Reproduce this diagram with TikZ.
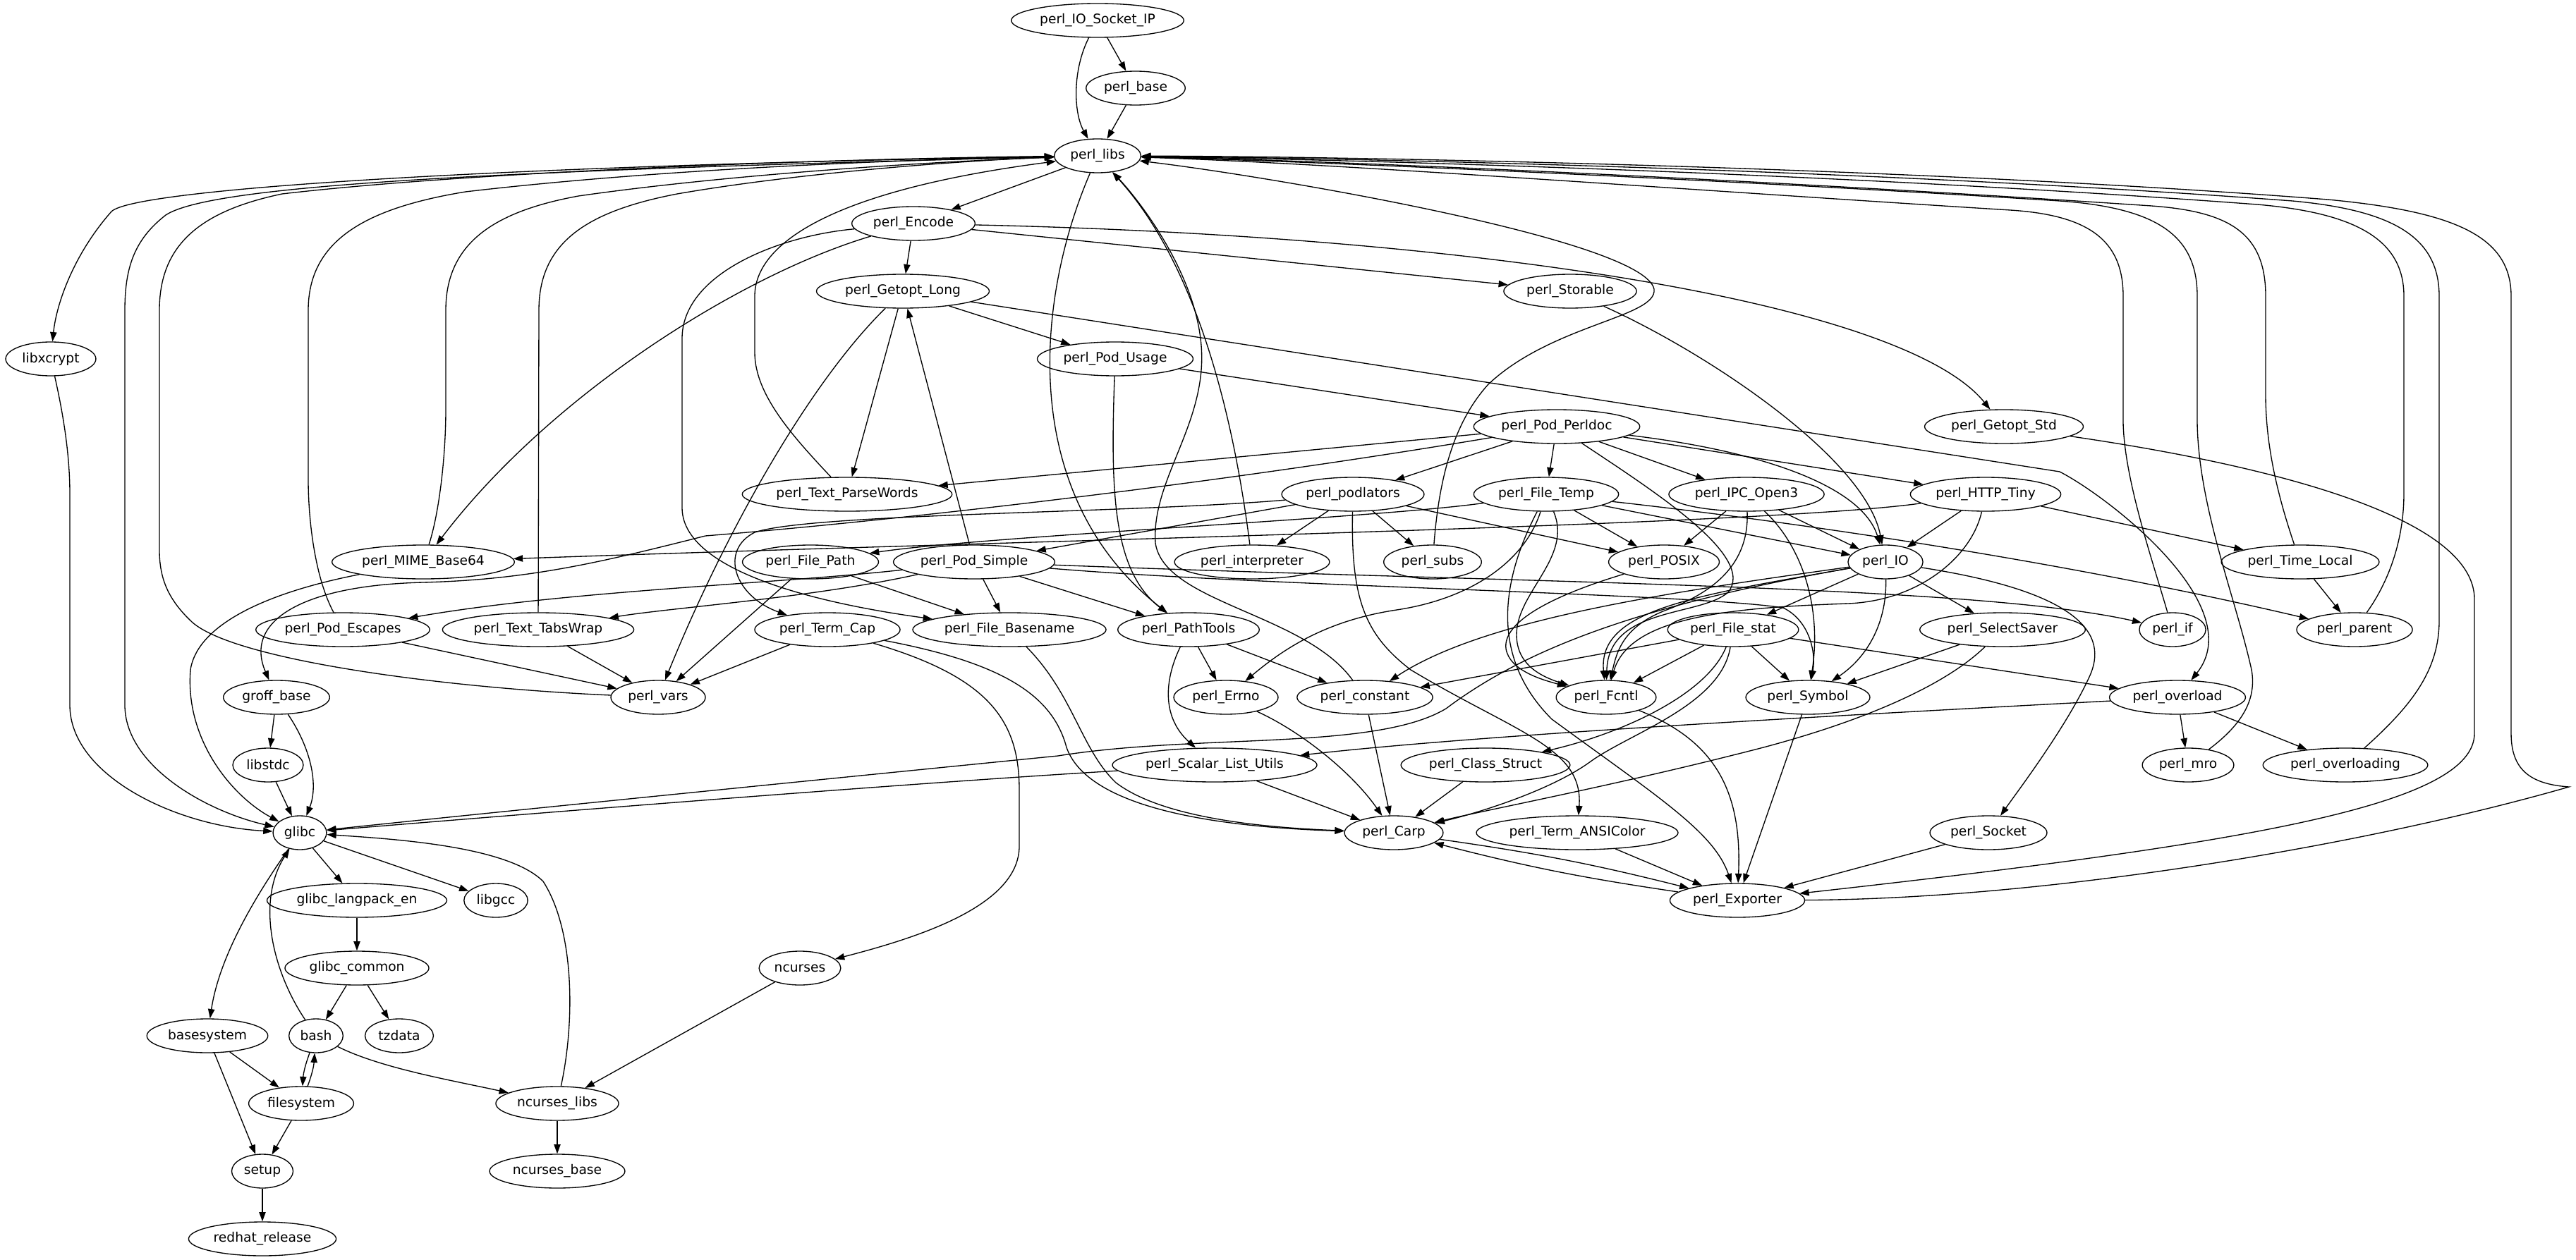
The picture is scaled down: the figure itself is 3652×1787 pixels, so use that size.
\documentclass[tikz,border=0pt]{standalone}
\usepackage{fontspec}
\setmainfont{DejaVu Sans}
\usetikzlibrary{shapes.geometric,arrows.meta}
\begin{document}
\begin{tikzpicture}[x=0.75pt,y=-0.75pt,
    pkg/.style={ellipse,draw,line width=1pt,minimum height=36pt,minimum width=54pt,inner xsep=3.5pt,inner ysep=0pt,font=\fontsize{14pt}{16pt}\selectfont},
    dep/.style={-{Triangle[length=10pt,width=7pt]},line width=1pt}]
        \fill[white] (0,0) rectangle (3652,1787);
        \useasboundingbox (0,0) rectangle (3652,1787);
        \node[pkg] (ioSocketIP) at (1556,29) {perl\_IO\_Socket\_IP};
        \node[pkg] (base) at (1610,125) {perl\_base};
        \node[pkg] (libs) at (1556,221) {perl\_libs};
        \node[pkg] (encode) at (1295,317) {perl\_Encode};
        \node[pkg] (getoptLong) at (1280,413) {perl\_Getopt\_Long};
        \node[pkg] (storable) at (2226,413) {perl\_Storable};
        \node[pkg] (libxcrypt) at (72,509) {libxcrypt};
        \node[pkg] (podUsage) at (1581,509) {perl\_Pod\_Usage};
        \node[pkg] (podPerldoc) at (2207,605) {perl\_Pod\_Perldoc};
        \node[pkg] (getoptStd) at (2841,605) {perl\_Getopt\_Std};
        \node[pkg] (parseWords) at (1201,701) {perl\_Text\_ParseWords};
        \node[pkg] (podlators) at (1918,701) {perl\_podlators};
        \node[pkg] (fileTemp) at (2192,701) {perl\_File\_Temp};
        \node[pkg] (ipcOpen3) at (2476,701) {perl\_IPC\_Open3};
        \node[pkg] (httpTiny) at (2815,701) {perl\_HTTP\_Tiny};
        \node[pkg] (mimeBase) at (600,797) {perl\_MIME\_Base64};
        \node[pkg] (filePath) at (1149,797) {perl\_File\_Path};
        \node[pkg] (podSimple) at (1381,797) {perl\_Pod\_Simple};
        \node[pkg] (interpreter) at (1775,797) {perl\_interpreter};
        \node[pkg] (subs) at (2031,797) {perl\_subs};
        \node[pkg] (posix) at (2359,797) {perl\_POSIX};
        \node[pkg] (io) at (2673,797) {perl\_IO};
        \node[pkg] (timeLocal) at (3261,797) {perl\_Time\_Local};
        \node[pkg] (podEscapes) at (486,893) {perl\_Pod\_Escapes};
        \node[pkg] (tabsWrap) at (763,893) {perl\_Text\_TabsWrap};
        \node[pkg] (termCap) at (1173,893) {perl\_Term\_Cap};
        \node[pkg] (fileBasename) at (1431,893) {perl\_File\_Basename};
        \node[pkg] (pathTools) at (1685,893) {perl\_PathTools};
        \node[pkg] (fileStat) at (2457,893) {perl\_File\_stat};
        \node[pkg] (selectSaver) at (2839,893) {perl\_SelectSaver};
        \node[pkg] (perlIf) at (3080,893) {perl\_if};
        \node[pkg] (parent) at (3338,893) {perl\_parent};
        \node[pkg] (groff) at (392,989) {groff\_base};
        \node[pkg] (vars) at (933,989) {perl\_vars};
        \node[pkg] (errno) at (1738,989) {perl\_Errno};
        \node[pkg] (constant) at (1935,989) {perl\_constant};
        \node[pkg] (fcntl) at (2277,989) {perl\_Fcntl};
        \node[pkg] (symbol) at (2563,989) {perl\_Symbol};
        \node[pkg] (overload) at (3087,989) {perl\_overload};
        \node[pkg] (libstdc) at (380,1085) {libstdc};
        \node[pkg] (scalarUtils) at (1722,1085) {perl\_Scalar\_List\_Utils};
        \node[pkg] (classStruct) at (2106,1085) {perl\_Class\_Struct};
        \node[pkg] (mro) at (3102,1085) {perl\_mro};
        \node[pkg] (overloading) at (3325,1085) {perl\_overloading};
        \node[pkg] (glibc) at (425,1181) {glibc};
        \node[pkg] (carp) at (1976,1181) {perl\_Carp};
        \node[pkg] (ansiColor) at (2236,1181) {perl\_Term\_ANSIColor};
        \node[pkg] (socket) at (2819,1181) {perl\_Socket};
        \node[pkg] (langpack) at (506,1277) {glibc\_langpack\_en};
        \node[pkg] (libgcc) at (703,1277) {libgcc};
        \node[pkg] (exporter) at (2463,1277) {perl\_Exporter};
        \node[pkg] (glibcCommon) at (506,1373) {glibc\_common};
        \node[pkg] (ncurses) at (1134,1373) {ncurses};
        \node[pkg] (basesystem) at (294,1469) {basesystem};
        \node[pkg] (bash) at (448,1469) {bash};
        \node[pkg] (tzdata) at (566,1469) {tzdata};
        \node[pkg] (filesystem) at (427,1565) {filesystem};
        \node[pkg] (ncursesLibs) at (790,1565) {ncurses\_libs};
        \node[pkg] (setup) at (372,1661) {setup};
        \node[pkg] (ncursesBase) at (790,1661) {ncurses\_base};
        \node[pkg] (redhat) at (372,1757) {redhat\_release};
        \draw[dep] (ioSocketIP) .. controls (1520,100) and (1522,160) .. (libs);
        \draw[dep] (ioSocketIP) -- (base);
        \draw[dep] (base) -- (libs);
        \draw[dep] (libs) -- (encode);
        \draw[dep] (libs) .. controls (700,235) and (190,268) .. (158,300) .. controls (105,360) and (80,430) .. (libxcrypt);
        \draw[dep] (libs) .. controls (700,242) and (300,262) .. (235,305) .. controls (190,340) and (177,380) .. (177,440) -- (177,1000) .. controls (177,1085) and (290,1150) .. (glibc);
        \draw[dep] (libs) .. controls (1470,420) and (1440,700) .. (pathTools);
        \draw[dep] (vars) .. controls (620,975) and (330,935) .. (272,882) .. controls (238,850) and (226,820) .. (226,780) -- (226,440) .. controls (226,350) and (280,300) .. (400,275) .. controls (700,240) and (1250,224) .. (libs);
        \draw[dep] (podEscapes) .. controls (447,820) and (437,740) .. (437,680) -- (437,440) .. controls (437,340) and (520,295) .. (660,272) .. controls (950,238) and (1300,226) .. (libs);
        \draw[dep] (mimeBase) .. controls (622,730) and (632,650) .. (632,580) -- (632,440) .. controls (632,345) and (700,300) .. (820,278) .. controls (1050,245) and (1350,228) .. (libs);
        \draw[dep] (tabsWrap) -- (764,440) .. controls (764,345) and (830,300) .. (960,275) .. controls (1150,242) and (1400,226) .. (libs);
        \draw[dep] (parseWords) .. controls (1125,620) and (1070,560) .. (1070,500) -- (1070,420) .. controls (1070,345) and (1180,270) .. (libs);
        \draw[dep] (libxcrypt) .. controls (88,580) and (99,640) .. (99,700) -- (99,1000) .. controls (99,1100) and (250,1172) .. (glibc);
        \draw[dep] (encode) -- (getoptLong);
        \draw[dep] (encode) -- (storable);
        \draw[dep] (encode) .. controls (2100,335) and (2700,430) .. (getoptStd);
        \draw[dep] (encode) .. controls (1050,390) and (780,560) .. (mimeBase);
        \draw[dep] (encode) .. controls (1100,335) and (967,390) .. (967,480) -- (967,720) .. controls (967,800) and (1120,850) .. (fileBasename);
        \draw[dep] (getoptLong) -- (podUsage);
        \draw[dep] (getoptLong) -- (parseWords);
        \draw[dep] (getoptLong) .. controls (1150,540) and (1030,750) .. (vars);
        \draw[dep] (getoptLong) -- (2920,669) .. controls (2990,705) and (3190,860) .. (overload);
        \draw[dep] (storable) .. controls (2420,500) and (2645,650) .. (io);
        \draw[dep] (podUsage) -- (podPerldoc);
        \draw[dep] (podUsage) .. controls (1574,700) and (1578,810) .. (pathTools);
        \draw[dep] (podPerldoc) -- (parseWords);
        \draw[dep] (podPerldoc) .. controls (1700,690) and (1250,740) .. (1000,760) .. controls (850,798) and (750,822) .. (600,826) .. controls (430,830) and (345,880) .. (groff);
        \draw[dep] (podPerldoc) -- (podlators);
        \draw[dep] (podPerldoc) -- (fileTemp);
        \draw[dep] (podPerldoc) -- (ipcOpen3);
        \draw[dep] (podPerldoc) .. controls (2500,640) and (2640,690) .. (io);
        \draw[dep] (podPerldoc) -- (httpTiny);
        \draw[dep] (podPerldoc) .. controls (2350,700) and (2490,790) .. (2450,840) .. controls (2410,875) and (2280,860) .. (fcntl);
        \draw[dep] (getoptStd) .. controls (3150,650) and (3508,720) .. (3508,850) -- (3508,1040) .. controls (3508,1140) and (3200,1195) .. (exporter);
        \draw[dep] (podlators) -- (podSimple);
        \draw[dep] (podlators) .. controls (1600,728) and (1150,728) .. (1070,755) .. controls (1020,780) and (1040,845) .. (termCap);
        \draw[dep] (podlators) -- (interpreter);
        \draw[dep] (podlators) -- (subs);
        \draw[dep] (podlators) -- (posix);
        \draw[dep] (podlators) .. controls (1915,850) and (1935,900) .. (2000,950) .. controls (2150,1040) and (2245,1060) .. (ansiColor);
        \draw[dep] (fileTemp) .. controls (1950,735) and (1400,760) .. (filePath);
        \draw[dep] (fileTemp) -- (posix);
        \draw[dep] (fileTemp) -- (io);
        \draw[dep] (fileTemp) .. controls (2500,735) and (2900,790) .. (parent);
        \draw[dep] (fileTemp) .. controls (2230,790) and (2150,840) .. (2150,900) .. controls (2150,940) and (2180,958) .. (fcntl);
        \draw[dep] (fileTemp) .. controls (2160,800) and (2080,850) .. (1980,865) .. controls (1880,880) and (1820,920) .. (errno);
        \draw[dep] (fileTemp) .. controls (2130,820) and (2110,930) .. (2200,1020) .. controls (2350,1130) and (2430,1180) .. (exporter);
        \draw[dep] (ipcOpen3) -- (posix);
        \draw[dep] (ipcOpen3) -- (io);
        \draw[dep] (ipcOpen3) .. controls (2560,780) and (2582,870) .. (symbol);
        \draw[dep] (ipcOpen3) .. controls (2480,800) and (2430,840) .. (2360,866) .. controls (2300,890) and (2292,925) .. (fcntl);
        \draw[dep] (httpTiny) -- (io);
        \draw[dep] (httpTiny) .. controls (2500,745) and (1500,765) .. (mimeBase);
        \draw[dep] (httpTiny) -- (timeLocal);
        \draw[dep] (httpTiny) .. controls (2795,790) and (2720,852) .. (2620,856) .. controls (2450,862) and (2310,875) .. (fcntl);
        \draw[dep] (mimeBase) .. controls (380,840) and (280,885) .. (270,950) .. controls (262,1050) and (330,1130) .. (glibc);
        \draw[dep] (filePath) -- (fileBasename);
        \draw[dep] (filePath) -- (vars);
        \draw[dep] (podSimple) -- (getoptLong);
        \draw[dep] (podSimple) .. controls (1100,828) and (800,838) .. (podEscapes);
        \draw[dep] (podSimple) .. controls (1150,848) and (950,862) .. (tabsWrap);
        \draw[dep] (podSimple) -- (fileBasename);
        \draw[dep] (podSimple) -- (pathTools);
        \draw[dep] (podSimple) .. controls (1800,832) and (2400,842) .. (2528,862) .. controls (2565,880) and (2575,925) .. (symbol);
        \draw[dep] (podSimple) .. controls (2200,828) and (2800,830) .. (perlIf);
        \draw[dep] (interpreter) .. controls (1750,600) and (1700,380) .. (libs);
        \draw[dep] (subs) .. controls (2040,680) and (2060,600) .. (2110,545) .. controls (2200,460) and (2350,450) .. (2345,410) .. controls (2330,340) and (1800,250) .. (libs);
        \draw[dep] (posix) .. controls (2200,845) and (2130,882) .. (2135,920) .. controls (2140,952) and (2190,965) .. (fcntl);
        \draw[dep] (io) -- (fileStat);
        \draw[dep] (io) -- (selectSaver);
        \draw[dep] (io) .. controls (2675,880) and (2650,930) .. (symbol);
        \draw[dep] (io) .. controls (2400,845) and (2265,865) .. (fcntl);
        \draw[dep] (io) .. controls (2350,842) and (2100,880) .. (constant);
        \draw[dep] (io) .. controls (2950,840) and (2990,900) .. (2962,960) .. controls (2930,1030) and (2862,1120) .. (socket);
        \draw[dep] (io) .. controls (2300,862) and (2150,930) .. (2050,1005) .. controls (1950,1065) and (1700,1040) .. (1500,1072) .. controls (1100,1112) and (700,1152) .. (glibc);
        \draw[dep] (timeLocal) -- (parent);
        \draw[dep] (timeLocal) .. controls (3228,700) and (3212,630) .. (3212,560) -- (3212,420) .. controls (3212,330) and (3160,300) .. (3050,292) .. controls (2500,255) and (1900,228) .. (libs);
        \draw[dep] (perlIf) .. controls (3050,790) and (3012,680) .. (3010,600) -- (3010,420) .. controls (3010,340) and (2960,305) .. (2850,298) .. controls (2400,270) and (1900,232) .. (libs);
        \draw[dep] (mro) .. controls (3175,1030) and (3200,995) .. (3192,950) .. controls (3170,850) and (3117,720) .. (3115,600) -- (3115,420) .. controls (3115,335) and (3060,295) .. (2920,285) .. controls (2500,258) and (1900,230) .. (libs);
        \draw[dep] (parent) .. controls (3390,820) and (3408,760) .. (3408,700) -- (3408,420) .. controls (3408,340) and (3340,302) .. (3200,290) .. controls (2600,245) and (1900,226) .. (libs);
        \draw[dep] (overloading) .. controls (3420,1000) and (3458,950) .. (3458,880) -- (3458,420) .. controls (3458,335) and (3390,298) .. (3250,285) .. controls (2650,240) and (1900,224) .. (libs);
        \draw[dep] (exporter) .. controls (2900,1275) and (3350,1200) .. (3642,1116) .. controls (3585,1112) and (3560,1090) .. (3560,1040) -- (3560,420) .. controls (3560,335) and (3480,300) .. (3300,283) .. controls (2700,236) and (1900,222) .. (libs);
        \draw[dep] (podEscapes) -- (vars);
        \draw[dep] (tabsWrap) -- (vars);
        \draw[dep] (termCap) -- (vars);
        \draw[dep] (termCap) .. controls (1420,940) and (1492,985) .. (1512,1060) .. controls (1540,1140) and (1700,1172) .. (carp);
        \draw[dep] (termCap) .. controls (1400,960) and (1445,1020) .. (1445,1120) -- (1445,1200) .. controls (1445,1285) and (1300,1330) .. (ncurses);
        \draw[dep] (fileBasename) .. controls (1522,985) and (1532,1062) .. (1582,1110) .. controls (1650,1162) and (1800,1174) .. (carp);
        \draw[dep] (pathTools) -- (errno);
        \draw[dep] (pathTools) -- (constant);
        \draw[dep] (pathTools) .. controls (1648,970) and (1650,1020) .. (scalarUtils);
        \draw[dep] (constant) .. controls (1850,870) and (1650,855) .. (1638,770) .. controls (1632,680) and (1712,600) .. (1703,490) .. controls (1695,390) and (1620,290) .. (libs);
        \draw[dep] (fileStat) -- (constant);
        \draw[dep] (fileStat) -- (fcntl);
        \draw[dep] (fileStat) -- (symbol);
        \draw[dep] (fileStat) -- (overload);
        \draw[dep] (fileStat) .. controls (2420,985) and (2300,1040) .. (classStruct);
        \draw[dep] (fileStat) .. controls (2440,1000) and (2310,1040) .. (2255,1080) .. controls (2200,1120) and (2100,1152) .. (carp);
        \draw[dep] (selectSaver) -- (symbol);
        \draw[dep] (selectSaver) .. controls (2760,970) and (2650,1020) .. (2500,1060) .. controls (2300,1112) and (2100,1150) .. (carp);
        \draw[dep] (groff) -- (libstdc);
        \draw[dep] (groff) .. controls (440,1060) and (452,1112) .. (glibc);
        \draw[dep] (errno) .. controls (1850,1040) and (1920,1100) .. (carp);
        \draw[dep] (constant) -- (carp);
        \draw[dep] (fcntl) .. controls (2430,1050) and (2470,1120) .. (exporter);
        \draw[dep] (symbol) -- (exporter);
        \draw[dep] (overload) -- (mro);
        \draw[dep] (overload) -- (overloading);
        \draw[dep] (overload) .. controls (2600,1015) and (2100,1042) .. (scalarUtils);
        \draw[dep] (libstdc) -- (glibc);
        \draw[dep] (scalarUtils) .. controls (1300,1110) and (800,1150) .. (glibc);
        \draw[dep] (scalarUtils) -- (carp);
        \draw[dep] (classStruct) -- (carp);
        \draw[dep] (carp) to[bend left=3] (exporter);
        \draw[dep] (exporter) to[bend left=3] (carp);
        \draw[dep] (ansiColor) -- (exporter);
        \draw[dep] (socket) -- (exporter);
        \draw[dep] (glibc) -- (langpack);
        \draw[dep] (glibc) -- (libgcc);
        \draw[dep] (glibc) .. controls (370,1260) and (312,1350) .. (basesystem);
        \draw[dep] (langpack) -- (glibcCommon);
        \draw[dep] (glibcCommon) -- (bash);
        \draw[dep] (glibcCommon) -- (tzdata);
        \draw[dep] (ncurses) -- (ncursesLibs);
        \draw[dep] (basesystem) -- (filesystem);
        \draw[dep] (basesystem) -- (setup);
        \draw[dep] (bash) .. controls (388,1380) and (362,1280) .. (glibc);
        \draw[dep] (bash) to[bend right=8] (filesystem);
        \draw[dep] (filesystem) to[bend right=8] (bash);
        \draw[dep] (bash) .. controls (540,1515) and (640,1532) .. (ncursesLibs);
        \draw[dep] (filesystem) -- (setup);
        \draw[dep] (setup) -- (redhat);
        \draw[dep] (ncursesLibs) -- (ncursesBase);
        \draw[dep] (ncursesLibs) .. controls (815,1450) and (815,1320) .. (770,1250) .. controls (720,1200) and (560,1190) .. (glibc);
    \end{tikzpicture}
\end{document}
